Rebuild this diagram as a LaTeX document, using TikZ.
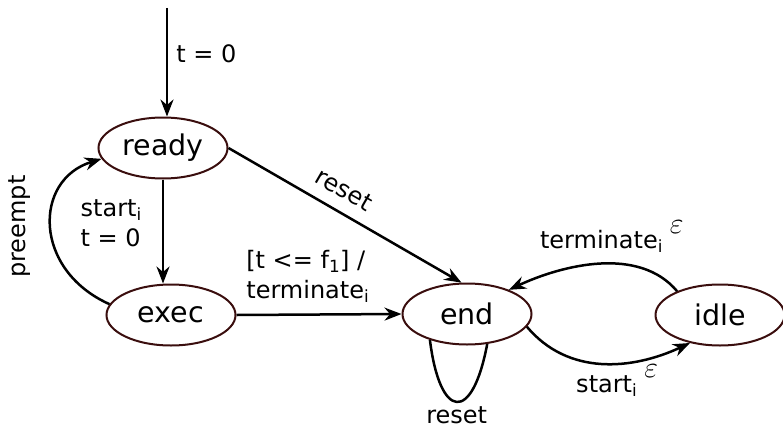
\documentclass[tikz,border=0pt]{standalone}
\usepackage{fontspec}
\setmainfont{DejaVu Sans}
\usepackage{tikz}
\usetikzlibrary{positioning, shapes.geometric, arrows.meta}
\definecolor{statebrown}{RGB}{58,14,14}
\newcommand{\epsup}{\hspace{7pt}\raisebox{15pt}{\scalebox{1.2}{$\varepsilon$}}}

\begin{document}
\begin{tikzpicture}[x=1pt,y=-1pt,
    state/.style={ellipse,draw=statebrown,line width=2pt,minimum width=129pt,minimum height=61pt,inner sep=0pt,font=\fontsize{28.5}{32}\selectfont},
    trans/.style={->,>={Stealth[length=17pt,width=13pt]},line width=2.5pt},
    lbl/.style={font=\fontsize{24}{30}\selectfont,align=left,inner sep=2pt}]
  \useasboundingbox (0,0) rectangle (783,428);
  % states
  \node[state] (ready) at (163,148) {ready};
  \node[state] (exec) at (171,315) {exec};
  \node[state] (end) at (467,314) {end};
  \node[state] (idle) at (720,315) {idle};
  \coordinate (init) at (167,8);
  % transitions
  \draw[trans] (init) -- (init |- ready.north) node[lbl,pos=0.42,right=6pt]{t = 0};
  \draw[trans] (ready.south) -- (ready.south |- exec.north)
    node[lbl,pos=0.42,left=18pt]{start\textsubscript{i}\\t = 0};
  \draw[trans] (exec.170) .. controls (33,270) and (33,180) .. (ready.190)
    node[lbl,pos=0.5,rotate=90,anchor=south,inner sep=19pt]{preempt};
  \draw[trans] (ready.east) -- (end.100)
    node[lbl,pos=0.45,sloped,above,inner sep=12pt]{reset};
  \draw[trans] (exec.east) -- (end.west)
    node[lbl,pos=0.04,anchor=south west,yshift=9pt]{[t <= f\textsubscript{1}] /\\terminate\textsubscript{i}};
  \draw[trans] (idle.151) to[out=130,in=25,looseness=0.9]
    node[lbl,pos=0.5,above,xshift=13pt,inner sep=10pt]{terminate\textsubscript{i}\epsup} (end.30);
  \draw[trans] (end.-12) to[out=-50,in=205]
    node[lbl,pos=0.5,below,xshift=15pt,inner sep=0pt]{start\textsubscript{i}\epsup} (idle.223);
  \draw[line width=2.5pt] (end.215) .. controls +(10,80) and +(-15,80) .. (end.-56)
    node[lbl,pos=0.5,below,inner sep=3pt]{reset};
\end{tikzpicture}
\end{document}
